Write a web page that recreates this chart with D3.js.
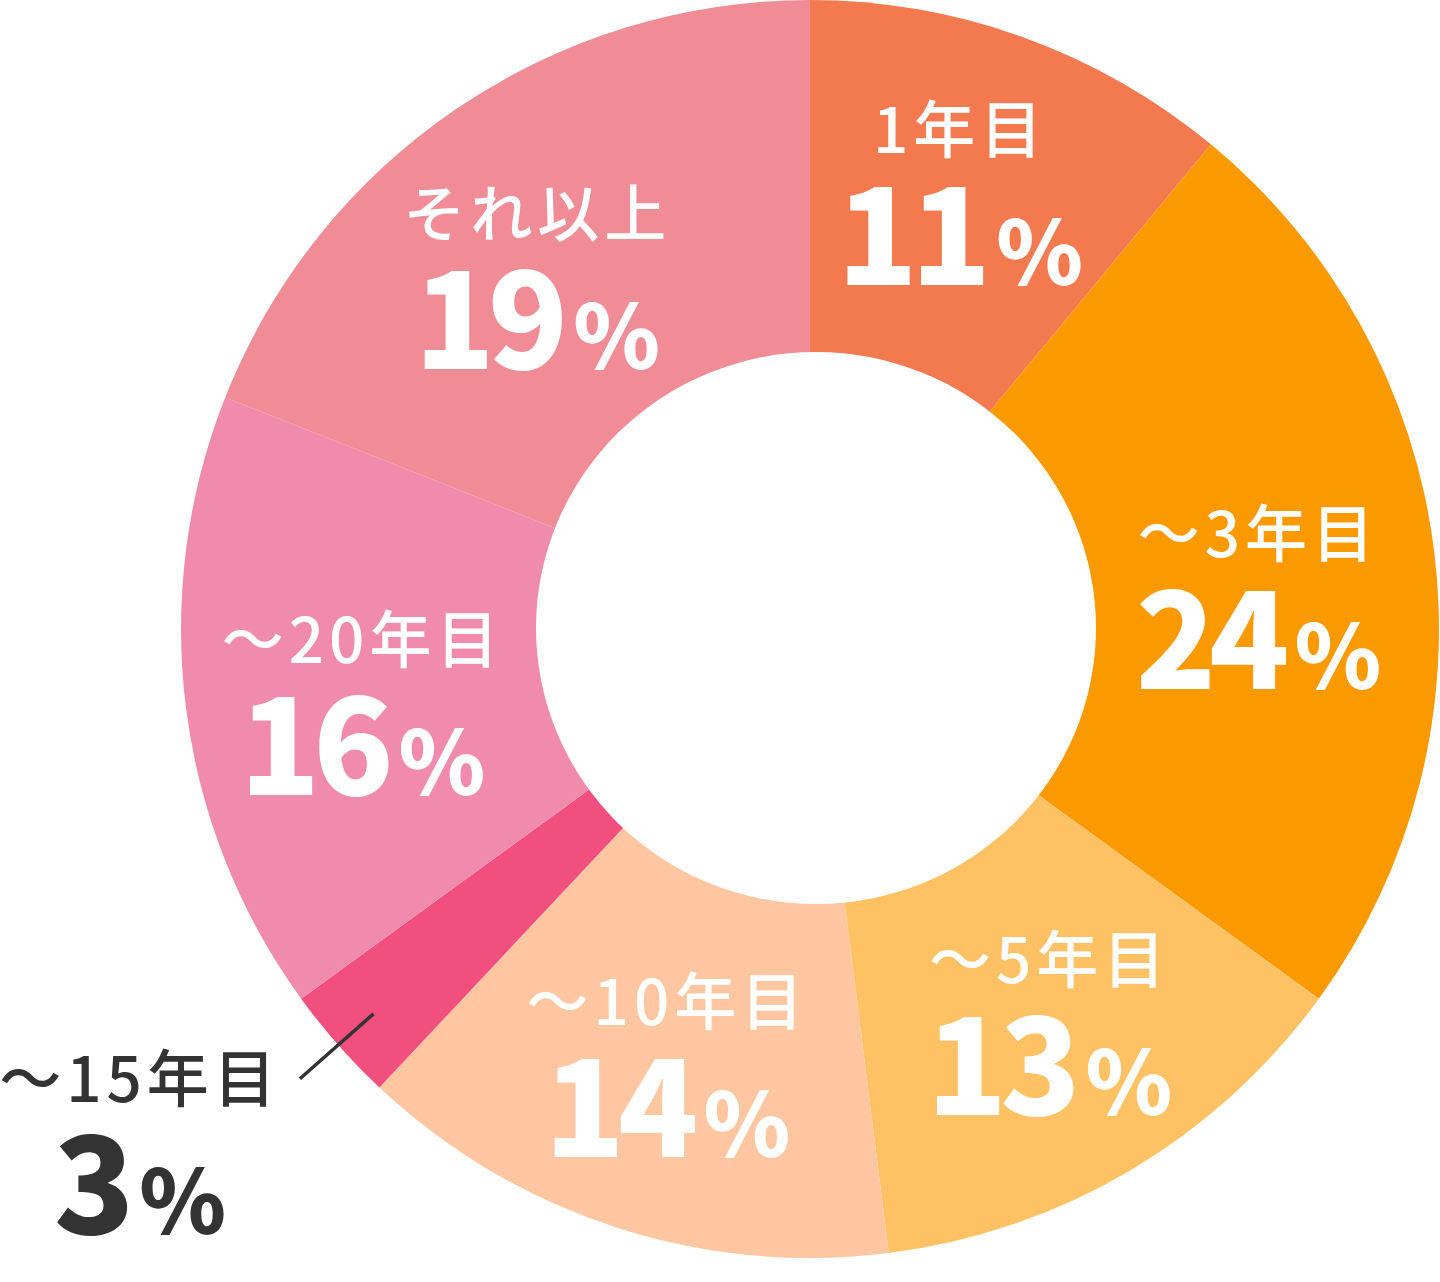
<!DOCTYPE html>
<html lang="ja">
<head>
<meta charset="utf-8">
<script src="https://cdn.jsdelivr.net/npm/d3@7"></script>
<style>
  html, body { margin: 0; padding: 0; background: #ffffff; }
  svg { display: block; }
</style>
</head>
<body>
<svg id="chart" width="1440" height="1282"></svg>
<script>
// ---- data ----
const categories = ["1年目", "〜3年目", "〜5年目", "〜10年目", "〜15年目", "〜20年目", "それ以上"];
const values = [11, 24, 13, 14, 3, 16, 19];
const colors = ["#F37A4F", "#FB9900", "#FEC264", "#FEC7A1", "#F1507F", "#F18BAE", "#EF8C95"];

// ---- layout ----
const W = 1440, H = 1282;
const cx = 810, cy = 629, R = 629;
const holeCx = 816, holeCy = 628, holeRx = 280, holeRy = 276;
const labelR = 455;
// small per-slice nudges of the label block (layout only)
const nudgeX = [-4, -3, 8, -2, 0, 4, -17];
const nudgeY = [-6, 27, 4, 5, 0, 19, 26];
const outsideIndex = 4;

const svg = d3.select("#chart");
const g = svg.append("g").attr("transform", `translate(${cx},${cy})`);

const pie = d3.pie().sort(null).value(d => d);
const arcs = pie(values);
const arc = d3.arc().innerRadius(0).outerRadius(R);
const labelArc = d3.arc().innerRadius(labelR).outerRadius(labelR);

g.selectAll("path.slice")
  .data(arcs)
  .join("path")
  .attr("class", "slice")
  .attr("d", arc)
  .attr("fill", (d, i) => colors[i]);

// hole
svg.append("ellipse")
  .attr("cx", holeCx).attr("cy", holeCy)
  .attr("rx", holeRx).attr("ry", holeRy)
  .attr("fill", "#ffffff");

const labelFont = "'Noto Sans CJK JP', 'Noto Sans', sans-serif";

function drawLabel(parent, x, baseY, cat, val, color) {
  parent.append("text")
    .attr("x", x).attr("y", baseY)
    .attr("text-anchor", "middle")
    .attr("font-family", labelFont)
    .attr("font-weight", 500)
    .attr("font-size", 62)
    .attr("letter-spacing", 5)
    .attr("fill", color)
    .text(cat);
  const t = parent.append("text")
    .attr("x", x).attr("y", baseY + 132)
    .attr("text-anchor", "middle")
    .attr("font-family", labelFont)
    .attr("font-weight", 900)
    .attr("fill", color);
  t.append("tspan").attr("font-size", 132).attr("letter-spacing", -7).text(val);
  t.append("tspan").attr("font-size", 88).attr("dx", 12).text("%");
}

arcs.forEach((d, i) => {
  if (i === outsideIndex) return;
  const [lx, ly] = labelArc.centroid(d);
  const x = cx + lx + nudgeX[i];
  const baseY = cy + ly + nudgeY[i] - 42;
  drawLabel(svg, x, baseY, categories[i], values[i], "#ffffff");
});

// outside label with leader line for small slice
{
  const d = arcs[outsideIndex];
  const mid = (d.startAngle + d.endAngle) / 2;
  const r1 = 582, r2 = 680;
  g.append("line")
    .attr("x1", Math.sin(mid) * r1).attr("y1", -Math.cos(mid) * r1)
    .attr("x2", Math.sin(mid) * r2).attr("y2", -Math.cos(mid) * r2)
    .attr("stroke", "#333333").attr("stroke-width", 3.5);
  drawLabel(svg, 140, 1102, categories[outsideIndex], values[outsideIndex], "#333333");
}
</script>
</body>
</html>
